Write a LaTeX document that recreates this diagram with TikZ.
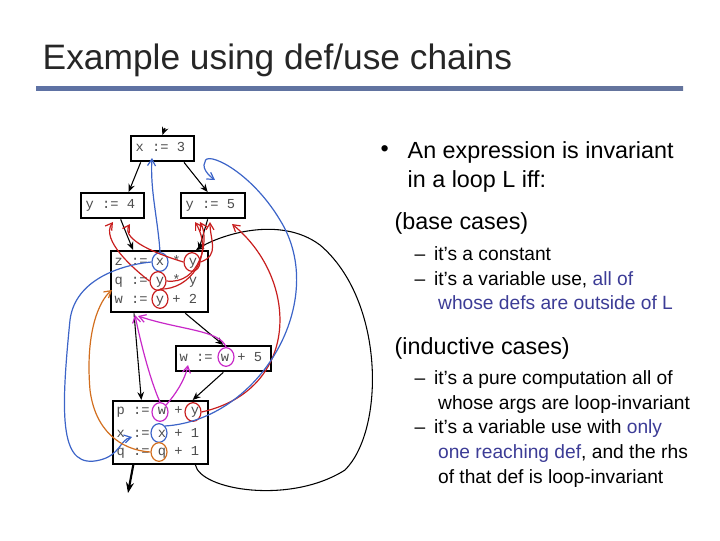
\documentclass[tikz,border=0pt]{standalone}
\usepackage{fontspec}
\setmainfont{Liberation Sans}
\newfontfamily\mono{Liberation Mono}
\usetikzlibrary{arrows.meta,shapes.geometric}
\definecolor{deep}{RGB}{60,60,150}
\definecolor{ured}{RGB}{200,30,30}
\definecolor{ublue}{RGB}{60,100,200}
\definecolor{umag}{RGB}{200,40,200}
\definecolor{uora}{RGB}{210,110,30}
\begin{document}
\begin{tikzpicture}[x=0.75pt,y=-0.75pt,
 box/.style={draw,line width=1.5pt,inner sep=0pt},
 code/.style={anchor=west,font=\mono\fontsize{10.3}{10}\selectfont,text=black!70,inner sep=1pt},
 edge/.style={-{Stealth[length=6pt,width=5pt]},line width=0.8pt},
 use/.style={line width=0.9pt,-{Straight Barb[length=5pt,width=6pt]}},
 circ/.style={draw,ellipse,minimum width=12pt,minimum height=14pt,inner sep=0pt,line width=0.9pt},
 tx/.style={anchor=west,font=\fontsize{17.5}{22}\selectfont,align=left},
 sx/.style={anchor=north west,font=\fontsize{14.4}{18.5}\selectfont,align=left}]
\useasboundingbox (0,0) rectangle (720,540);
\node[anchor=west,font=\fontsize{26.5}{30}\selectfont,text=black!85] (title) at (38,60) {Example using def/use chains};
\shade[left color=ublue!50!gray,right color=ublue!40!gray] (36,86) rectangle (683,90);
% boxes
\node[box,anchor=north west,minimum width=47pt,minimum height=19pt] (b1) at (130,135) {};
\node[code] (t1) at (134,147) {x := 3};
\node[box,anchor=north west,minimum width=47pt,minimum height=19pt] (b2) at (80,192) {};
\node[code] (t2) at (84,205) {y := 4};
\node[box,anchor=north west,minimum width=48pt,minimum height=19pt] (b3) at (180,192) {};
\node[code] (t3) at (184,205) {y := 5};
\node[box,anchor=north west,minimum width=73pt,minimum height=46pt] (b4) at (110,250) {};
\node[code] (t4) at (113,262) {z := x * y};
\node[code] (t5) at (113,281) {q := y * y};
\node[code] (t6) at (113,300) {w := y + 2};
\node[box,anchor=north west,minimum width=71pt,minimum height=19pt] (b5) at (175,345) {};
\node[code] (t7) at (178,357) {w := w + 5};
\node[box,anchor=north west,minimum width=71pt,minimum height=47pt] (b6) at (112,400) {};
\node[code] (t8) at (115,412) {p := w + y};
\node[code] (t9) at (115,433) {x := x + 1};
\node[code] (t10) at (115,452) {q := q + 1};
% control edges
\coordinate (top) at (165,128);
\coordinate (out) at (128,493);
\draw[edge] (top) -- (b1.north);
\draw[edge] ([xshift=8]b1.south west) -- ([xshift=-12]b2.north east);
\draw[edge] ([xshift=-8]b1.south east) -- ([xshift=-4]b3.north);
\draw[edge] ([xshift=-18]b2.south east) -- ([xshift=-20]b4.north);
\draw[edge] ([xshift=-4]b3.south) -- ([xshift=-8]b4.north east);
\draw[edge] ([xshift=18]b4.south west) -- ([xshift=22]b6.north west);
\draw[edge] ([xshift=-18]b4.south east) -- (b5.north);
\draw[edge] (b5.south) -- ([xshift=-12]b6.north east);
\draw[-{Stealth[length=8pt,width=6pt]},line width=1.6pt] ([xshift=16]b6.south west) -- (out);
\draw[edge] ([xshift=-10]b6.south east) .. controls (200,490) and (290,505) .. (345,470)
  .. controls (385,430) and (385,300) .. (320,245) .. controls (280,215) and (220,235) .. ([xshift=-10]b4.north east);
% use circles
\node[circ,ublue] (cx1) at (160,262) {};
\node[circ,ured] (cy1) at (192,262) {};
\node[circ,ured] (cy2) at (158,281) {};
\node[circ,ured] (cy3) at (160,299) {};
\node[circ,umag] (cw1) at (226,357) {};
\node[circ,umag] (cw2) at (160,412) {};
\node[circ,ured] (cy4) at (193,412) {};
\node[circ,ublue] (cx2) at (159,433) {};
\node[circ,uora] (cq) at (159,452) {};
% use-def chains
\draw[use,ublue] (cx1.north) .. controls (158,220) and (150,190) .. (152,158);
\draw[use,ured] (cy1.west) .. controls (160,255) and (120,240) .. (130,224);
\draw[use,ured] (cy1.east) .. controls (220,255) and (210,240) .. (210,222);
\draw[use,ured] (cy2.west) .. controls (135,270) and (100,240) .. (113,222);
\draw[use,ured] (cy2.east) .. controls (200,285) and (210,240) .. (200,222);
\draw[use,ured] (cy3.north) .. controls (190,290) and (215,255) .. (195,222);
\draw[use,ured] (cy4.east) .. controls (300,390) and (300,280) .. (232,224);
\draw[use,ublue] (cx2.north east) .. controls (260,420) and (330,300) .. (280,220)
  .. controls (250,170) and (205,150) .. (205,162) .. controls (200,170) and (215,180) .. (215,180);
\draw[use,ublue] (cx1.west) .. controls (120,265) and (75,280) .. (70,320)
  .. controls (60,420) and (60,470) .. (100,460) .. controls (120,455) and (120,440) .. (132,437);
\draw[use,uora] (cq.west) .. controls (120,450) and (95,430) .. (90,390)
  .. controls (85,330) and (100,300) .. (112,290);
\draw[use,umag] (cw2.north) .. controls (150,380) and (140,340) .. (135,315);
\draw[use,umag] (cw2.north east) .. controls (175,395) and (185,380) .. (188,365);
\draw[use,umag] (cw1.north) .. controls (220,330) and (180,330) .. (138,316);
% text
\node[anchor=west,font=\fontsize{17.5}{22}\selectfont] (bul) at (376,151) {•};
\node[tx,anchor=north west] (p1) at (403,137) {An expression is invariant\\in a loop L iff:};
\node[tx] (p2) at (390,223) {(base cases)};
\node[sx] (s1) at (410,242) {–\hspace{0.45em}it’s a constant\\–\hspace{0.45em}it’s a variable use, \textcolor{deep}{all of}\\\hspace{1.22em}\textcolor{deep}{whose defs are outside of L}};
\node[tx] (p3) at (390,348) {(inductive cases)};
\node[sx] (s2) at (410,366) {–\hspace{0.45em}it’s a pure computation all of\\\hspace{1.22em}whose args are loop-invariant\\–\hspace{0.45em}it’s a variable use with \textcolor{deep}{only}\\\hspace{1.22em}\textcolor{deep}{one reaching def}, and the rhs\\\hspace{1.22em}of that def is loop-invariant};
\end{tikzpicture}
\end{document}
